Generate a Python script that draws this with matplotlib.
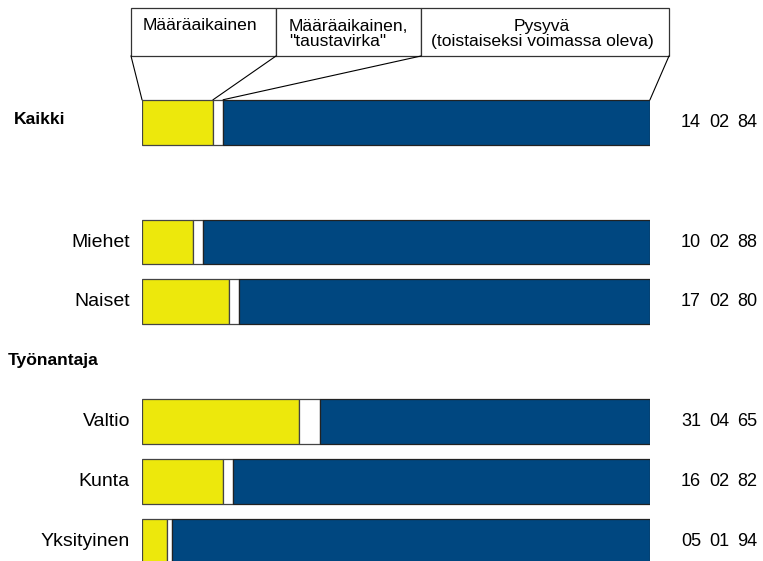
import matplotlib
matplotlib.use('Agg')
import matplotlib.pyplot as plt
from matplotlib.patches import Rectangle

plt.rcParams['font.family'] = ['Liberation Sans', 'DejaVu Sans']

# data: shares (%) by employment type
labels = ['Kaikki', 'Miehet', 'Naiset', 'Valtio', 'Kunta', 'Yksityinen']
rows = [0, 2, 3, 5, 6, 7]
fixed_term = [14, 10, 17, 31, 16, 5]
fixed_backup = [2, 2, 2, 4, 2, 1]
permanent = [84, 88, 80, 65, 82, 94]
bold_labels = ['Kaikki']
section_title = 'Työnantaja'
section_row = 4
header_texts = ['Määräaikainen', 'Määräaikainen,\n"taustavirka"',
                'Pysyvä\n(toistaiseksi voimassa oleva)']

yellow = '#EDE80C'
blue = '#004780'
edge = '#444444'

W, H = 763, 561
fig = plt.figure(figsize=(W / 100, H / 100), dpi=100)
# bars span pixel 142..650 horizontally, rows are 59.9 px apart
ax = fig.add_axes([142 / W, 0, 508 / W, 1])
ax.set_xlim(0, 100)
step = 59.9
y0 = 122.2
ax.set_ylim((H - y0) / step, -y0 / step)
ax.axis('off')

def px_x(p):
    return (p - 142) / 5.08

def px_y(p):
    return (p - y0) / step

# 100 % stacked bars (rounded figures do not always add up to 100)
totals = [a + b + c for a, b, c in zip(fixed_term, fixed_backup, permanent)]
s1 = [a / t * 100 for a, t in zip(fixed_term, totals)]
s2 = [b / t * 100 for b, t in zip(fixed_backup, totals)]
s3 = [c / t * 100 for c, t in zip(permanent, totals)]

bh = 0.751
ax.barh(rows, s1, height=bh, color=yellow, edgecolor=edge, linewidth=0.9)
ax.barh(rows, s2, left=s1, height=bh, color='white', edgecolor=edge, linewidth=0.9)
left3 = [a + b for a, b in zip(s1, s2)]
ax.barh(rows, s3, left=left3, height=bh, color=blue, edgecolor='#222222', linewidth=0.9)

for lab, r, a, b, c in zip(labels, rows, fixed_term, fixed_backup, permanent):
    if lab in bold_labels:
        ax.text(px_x(14), r - 0.04, lab, ha='left', va='center', fontsize=12.6,
                fontweight='bold', clip_on=False)
    else:
        ax.text(px_x(130), r, lab, ha='right', va='center', fontsize=14, clip_on=False)
    for k, v in enumerate([a, b, c]):
        ax.text(px_x(681) + k * 5.51, r, '%02d' % v, ha='left', va='center',
                fontsize=13, clip_on=False)

ax.text(px_x(8), section_row - 0.02, section_title, ha='left', va='center',
        fontsize=12.6, fontweight='bold', clip_on=False)

# header boxes
bx = [px_x(131), px_x(276), px_x(421), px_x(669)]
btop, bbot = px_y(8), px_y(56)
for i in range(3):
    ax.add_patch(Rectangle((bx[i], bbot), bx[i + 1] - bx[i], btop - bbot,
                           facecolor='white', edgecolor='#333333', linewidth=0.9,
                           clip_on=False))
ax.text((bx[0] + bx[1]) / 2 - 0.7, px_y(26), header_texts[0], ha='center', va='center',
        fontsize=12.6, clip_on=False)
ax.text(px_x(289), px_y(34), header_texts[1], ha='left', va='center',
        fontsize=12.6, linespacing=1.05, multialignment='left', clip_on=False)
ax.text((bx[2] + bx[3]) / 2 - 0.6, px_y(34), header_texts[2], ha='center', va='center',
        fontsize=12.6, linespacing=1.05, multialignment='center', clip_on=False)

# connector lines from boxes to the first bar
bar_top = rows[0] - bh / 2
ends = [0, s1[0], s1[0] + s2[0], 100]
for x_box, x_bar in zip(bx, ends):
    ax.plot([x_box, x_bar], [bbot, bar_top], color='black', linewidth=0.8,
            clip_on=False)

fig.savefig('out.png', dpi=100)
